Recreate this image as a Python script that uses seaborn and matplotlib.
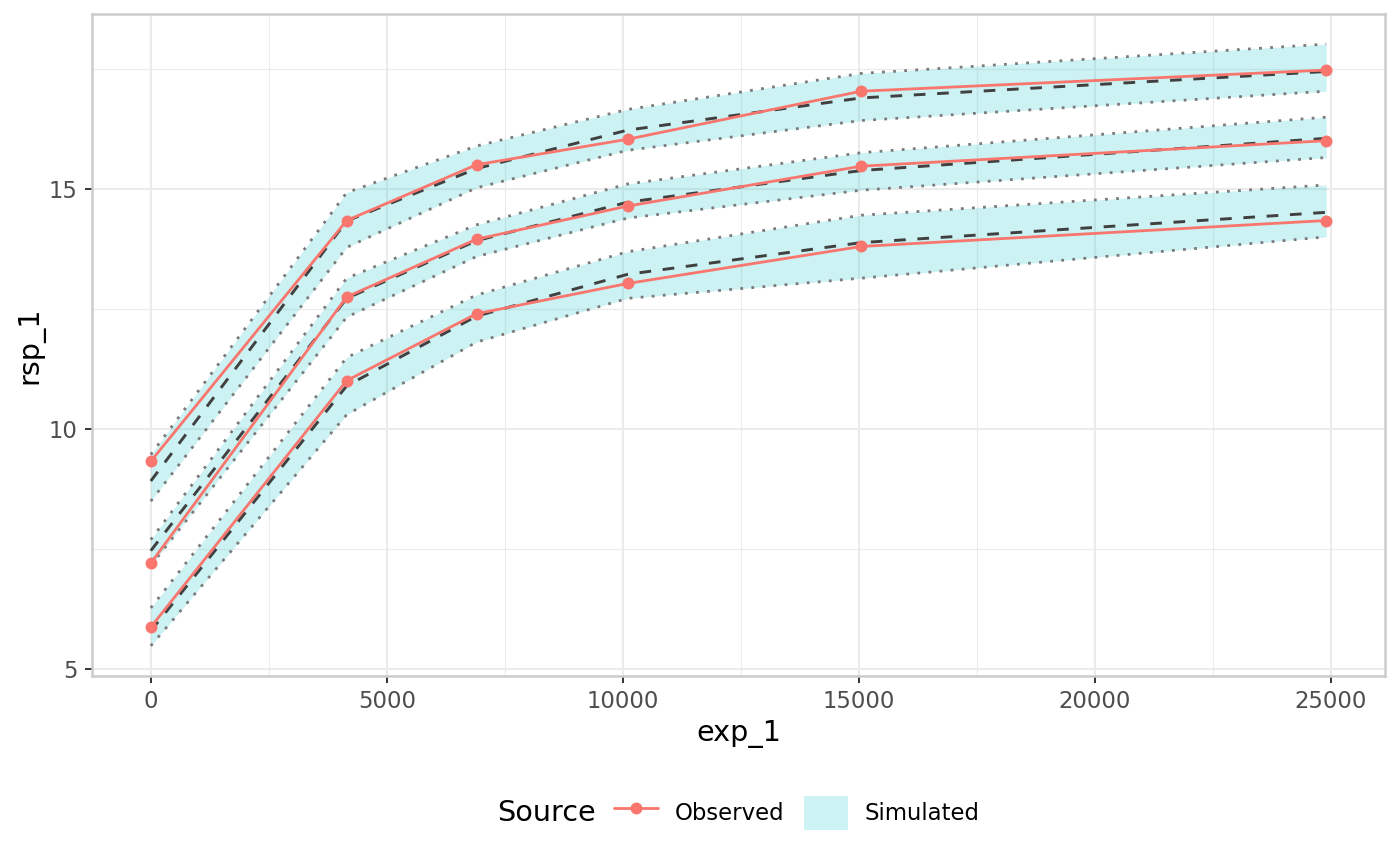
import matplotlib
matplotlib.use("Agg")
import matplotlib.pyplot as plt
from matplotlib.lines import Line2D
from matplotlib.patches import Patch
import seaborn as sns
import numpy as np

# ---- data ----
exp_1 = [0, 4150, 6900, 10100, 15050, 24900]

obs_q05 = [5.88, 11.01, 12.40, 13.03, 13.80, 14.34]
obs_q50 = [7.21, 12.75, 13.95, 14.64, 15.47, 16.00]
obs_q95 = [9.33, 14.34, 15.50, 16.03, 17.03, 17.47]

sim_q05_lo = [5.49, 10.30, 11.81, 12.72, 13.14, 14.00]
sim_q05_md = [5.80, 10.90, 12.35, 13.22, 13.88, 14.51]
sim_q05_hi = [6.28, 11.49, 12.79, 13.69, 14.45, 15.08]

sim_q50_lo = [7.16, 12.33, 13.59, 14.39, 14.97, 15.65]
sim_q50_md = [7.47, 12.72, 13.92, 14.72, 15.38, 16.05]
sim_q50_hi = [7.70, 13.14, 14.25, 15.10, 15.75, 16.49]

sim_q95_lo = [8.50, 13.78, 15.02, 15.80, 16.42, 17.03]
sim_q95_md = [8.92, 14.33, 15.42, 16.22, 16.89, 17.44]
sim_q95_hi = [9.47, 14.92, 15.89, 16.65, 17.40, 18.01]

x_ticks = [0, 5000, 10000, 15000, 20000, 25000]
y_ticks = [5, 10, 15]
legend_labels = ["Observed", "Simulated"]

# ---- style ----
sns.set_theme(style="white")
plt.rcParams["font.family"] = ["DejaVu Sans"]
plt.rcParams["text.color"] = "black"

RED = "#F8766D"
CYAN = "#00BFC4"

fig = plt.figure(figsize=(7, 4.325), dpi=200)
ax = fig.add_axes([92/1400, 1-676/865, (1385-92)/1400, (676-14)/865])

bands = [
    (sim_q05_lo, sim_q05_md, sim_q05_hi),
    (sim_q50_lo, sim_q50_md, sim_q50_hi),
    (sim_q95_lo, sim_q95_md, sim_q95_hi),
]
for lo, md, hi in bands:
    ax.fill_between(exp_1, lo, hi, color=CYAN, alpha=0.2, linewidth=0, zorder=2)
for lo, md, hi in bands:
    for b in (lo, hi):
        sns.lineplot(x=exp_1, y=b, ax=ax, color="#7a7a7a", linewidth=1.0,
                     linestyle=(0, (1, 3)), zorder=3)
    sns.lineplot(x=exp_1, y=md, ax=ax, color="#404040", linewidth=1.05,
                 linestyle=(0, (4, 4)), zorder=4)
for obs in (obs_q05, obs_q50, obs_q95):
    sns.lineplot(x=exp_1, y=obs, ax=ax, color=RED, linewidth=1.0,
                 marker="o", markersize=4.3, markeredgewidth=0, zorder=5)

# limits with ggplot-like 5% expansion
xr = max(exp_1) - min(exp_1)
ax.set_xlim(min(exp_1) - 0.05 * xr, max(exp_1) + 0.05 * xr)
ally = sim_q05_lo + sim_q95_hi + obs_q05 + obs_q95
yr = max(ally) - min(ally)
ax.set_ylim(min(ally) - 0.05 * yr, max(ally) + 0.05 * yr)

ax.set_xticks(x_ticks)
ax.set_xticklabels([str(t) for t in x_ticks])
ax.set_yticks(y_ticks)
ax.set_yticklabels([str(t) for t in y_ticks])
ax.set_xticks([2500, 7500, 12500, 17500, 22500], minor=True)
ax.set_yticks([7.5, 12.5, 17.5], minor=True)

ax.grid(which="major", color="#EBEBEB", linewidth=0.75, zorder=0)
ax.grid(which="minor", color="#EBEBEB", linewidth=0.4, zorder=0)
ax.set_axisbelow(True)
for s in ax.spines.values():
    s.set_color("#CCCCCC")
    s.set_linewidth(0.9)
ax.tick_params(which="major", length=2.5, width=0.7, color="#333333",
               labelcolor="#4D4D4D", labelsize=8.2, pad=2.6,
               bottom=True, left=True)
ax.tick_params(which="minor", length=0, bottom=False, left=False)

ax.set_xlabel("exp_1", fontsize=10.3, color="black", labelpad=2.5)
ax.set_ylabel("rsp_1", fontsize=10.3, color="black", labelpad=1.5)

# legend
handles = [
    Line2D([0], [0], color=RED, linewidth=1.0, marker="o", markersize=4.3,
           markeredgewidth=0),
    Patch(facecolor=CYAN, alpha=0.2, edgecolor="none"),
]
fig.text(497/1400, 1-813/865, "Source", fontsize=10.3, color="black",
         ha="left", va="center")
leg = fig.legend(handles, legend_labels, loc="center left",
                 bbox_to_anchor=(614/1400, 1-813/865), ncol=2, frameon=False,
                 fontsize=8.2, handlelength=1.95, handleheight=1.95,
                 handletextpad=0.72, columnspacing=0.85, borderpad=0,
                 borderaxespad=0)
for t in leg.get_texts():
    t.set_color("black")

fig.savefig("out.png", dpi=200)
